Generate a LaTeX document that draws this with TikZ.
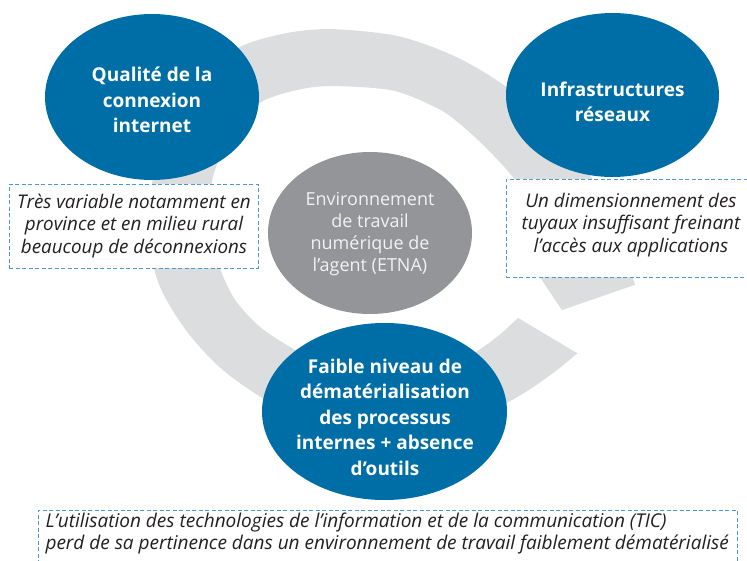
\documentclass[tikz,border=0pt]{standalone}
\usepackage{fontspec}
\setmainfont{Open Sans}
\usetikzlibrary{shapes.geometric}
\definecolor{bandgrey}{HTML}{DCDDDE}
\definecolor{midgrey}{HTML}{939598}
\definecolor{mainblue}{HTML}{006EA6}
\definecolor{dashblue}{HTML}{4A9BD1}
\definecolor{txtdark}{HTML}{231F20}
\definecolor{lighttxt}{HTML}{F2F2F2}
\tikzset{
  bluecirc/.style={ellipse, fill=mainblue, draw=none, inner sep=0pt},
  greycirc/.style={ellipse, fill=midgrey, draw=none, inner sep=0pt},
  circtext/.style={text=white, align=center, font=\bfseries\fontsize{19}{25.5}\selectfont},
  centertext/.style={text=lighttxt, align=center, font=\fontsize{18}{22}\selectfont},
  notebox/.style={draw=dashblue, fill=white, line width=0.9pt, dash pattern=on 4pt off 2.5pt},
  notetext/.style={text=txtdark, align=center, font=\itshape\fontsize{18.8}{22.5}\selectfont},
  bottomtext/.style={text=txtdark, align=left, font=\itshape\fontsize{19}{22.5}\selectfont},
}
\begin{document}
\begin{tikzpicture}[x=1pt,y=-1pt]
\useasboundingbox (0,0) rectangle (747,561);
\clip (0,0) rectangle (747,561);
% grey band (circular arrow), polar coordinates about (353,232), angles clockwise on screen
\begin{scope}[shift={(353,232)}]
\fill[bandgrey]
  plot[smooth] coordinates {(28.4:255) (35:245) (45:233) (60:221) (75:209) (90:200) (105:193) (120:189) (135:190) (150:194) (165:201) (180:205) (195:207) (210:209) (225:214) (238:217) (251:210) (264:204) (283:201) (300:203) (315:210) (330:223) (345:242) (360:263) (370.6:287)}
  -- (20.5:223) -- (13.5:192)
  -- plot[smooth] coordinates {(13.5:192) (0:183) (350:176) (341:169) (327:157) (315:152) (305:150) (286:147) (263:147) (250:152) (235:159) (220:157) (200:150) (180:141) (165:138) (150:136) (135:133) (120:131) (105:134) (90:141) (75:150) (60:160) (45:171) (35:179) (27.5:186)}
  -- cycle;
\end{scope}
% centre ellipse
\node[greycirc, minimum width=204, minimum height=162] (env) at (370,233) {};
\node[centertext] (envt) at (370,234) {Environnement\\de travail\\numérique de\\l’agent (ETNA)};
% blue circles
\node[bluecirc, minimum width=214, minimum height=166] (qual) at (152,97) {};
\node[circtext] (qualt) at (152,100) {Qualité de la\\connexion\\internet};
\node[bluecirc, minimum width=213, minimum height=164] (infra) at (612.5,95) {};
\node[circtext] (infrat) at (612.5,102) {Infrastructures\\réseaux};
\node[bluecirc, minimum width=245, minimum height=177] (faible) at (384.5,411.5) {};
\node[circtext] (faiblet) at (385,417) {Faible niveau de\\dématérialisation\\des processus\\internes + absence\\d’outils};
% dashed note boxes
\node[notebox, minimum width=249, minimum height=84, anchor=north west] (nleft) at (9,184) {};
\node[notetext] (nleftt) at (134,226) {Très variable notamment en\\province et en milieu rural\\beaucoup de déconnexions};
\node[notebox, minimum width=270, minimum height=98, anchor=north west] (nright) at (506,179) {};
\node[notetext] (nrightt) at (631,225) {Un dimensionnement des\\tuyaux insuffisant freinant\\l’accès aux applications};
\node[notebox, minimum width=699, minimum height=60, anchor=north west] (nbottom) at (38,510) {};
\node[bottomtext, anchor=north west] (nbottomt) at (42,509) {L’utilisation des technologies de l’information et de la communication (TIC)\\perd de sa pertinence dans un environnement de travail faiblement dématérialisé};
\end{tikzpicture}
\end{document}
